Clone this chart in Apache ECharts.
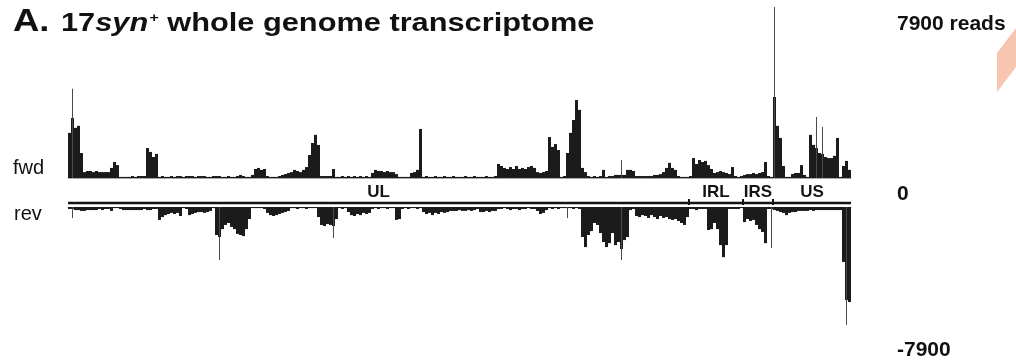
<!DOCTYPE html>
<html>
<head>
<meta charset="utf-8">
<style>
  html, body { margin: 0; padding: 0; background: #ffffff; }
  #chart { width: 1016px; height: 364px; }
</style>
<script src="https://cdn.jsdelivr.net/npm/echarts@6/dist/echarts.min.js"></script>
</head>
<body>
<div id="chart"></div>
<script>
// Strand-specific read coverage along the genome, one value per 3-pixel-wide genome bin.
// Forward-strand coverage (reads)
const fwdReads = [
  2060, 2740, 2290, 2380, 1140,
  270, 320, 320, 270, 320, 270, 270, 270, 270, 460, 730, 590,
  50, 50, 50, 50, 90, 50, 90, 90, 90,
  1370, 1190, 960, 1100,
  50, 90, 50, 50, 90, 50, 90, 90, 50, 90, 90, 90, 50, 90, 90, 90, 50, 50, 90, 90, 90, 50, 50, 90, 50, 50, 90, 140, 90, 50, 50, 140,
  410, 460, 370, 410,
  90, 50, 50, 50, 90, 140, 180, 230, 270, 370, 320, 270, 370, 500, 1050, 1600, 1970, 1510,
  90, 90, 90, 90, 410, 50, 50, 90, 50, 90, 50, 90, 50, 90, 50, 90, 50,
  230, 370, 320, 320, 270, 320, 270, 270, 180,
  50, 50, 50, 50,
  230, 270, 370, 2240,
  50, 90, 50, 50, 90, 50, 50, 90, 50, 50, 90, 50, 50, 50, 90, 50, 50, 90, 50, 50, 50, 90, 50, 50, 90,
  640, 550, 460, 410, 500, 410, 550, 410, 460, 410, 500, 550, 460, 270, 230, 270, 320,
  1870, 1420, 1550, 1280,
  50, 90,
  1140, 2060, 2650, 3560, 3110, 460, 270,
  90, 50, 90, 50, 90, 370, 50, 90, 90, 140, 140, 140, 140, 370, 370, 320, 90, 90, 90, 90,
  90, 90, 140, 140, 180, 270, 460, 690, 460, 370, 90, 50, 50, 50, 90,
  910, 640, 820, 730, 780, 590, 410,
  230, 270, 320, 270, 230, 180, 500, 90, 50, 90, 140, 180, 180, 230, 180, 230, 270, 730, 90, 50,
  3700, 2380, 1830, 550,
  50, 50, 180, 230, 230, 590, 140, 50,
  1970, 1510, 1370, 1140, 1100, 960, 910, 910, 1010, 1830,
  50, 550, 780, 370
];

// Reverse-strand coverage (reads, drawn below the genome map)
const revReads = [
  -90, -90,
  -140, -140, -180, -180, -140, -140, -140, -140, -90, -140, -90, -90, -180, -50, -50,
  -90, -140, -140, -140, -140, -140, -140, -140, -90, -140, -140, -90, -90,
  -590, -460, -370, -320, -270, -320, -270, -410, -50, -90,
  -370, -320, -270, -230, -230, -270, -230, -180, -50,
  -1280, -1370, -1010, -820, -730, -910, -1010, -1230, -1280, -1330, -1010, -550,
  -50, -50, -50, -50, -90,
  -270, -370, -410, -370, -320, -270, -230, -180,
  -50, -50, -90, -50, -50, -90, -50, -50, -50, -460,
  -820, -870, -780, -820, -870, -550,
  -50, -90, -50,
  -230, -370, -410, -320, -370, -270, -320, -270, -90,
  -50, -90, -50, -50, -90, -50, -50,
  -590, -550, -90,
  -50, -90, -50, -50, -90, -50,
  -230, -320, -270, -370, -270, -320, -230, -270, -230, -180, -180, -180, -140, -180, -180, -140, -180, -140, -90, -230, -230, -180, -230, -180, -180,
  -90, -90, -50, -90, -140, -90, -90, -140, -90, -90, -50, -90, -90,
  -180, -320, -270, -140,
  -50, -90, -50, -90, -50, -50,
  -50,
  -50, -90, -50, -90,
  -1370, -1830, -1280, -1100, -730, -820, -1190, -1600, -1830,
  -1650, -1190, -1740, -1600, -1920, -1510, -1370,
  -140, -90,
  -410, -460, -370, -410, -500, -370, -460, -550, -410, -500, -460, -550, -590, -550, -640, -730, -820, -460,
  -90, -90, -140, -90, -90, -90,
  -1050, -1010, -730, -1010, -1740, -2290, -1740,
  -90, -90, -90, -90, -50,
  -690, -550, -640, -590, -820, -1010, -1140, -1650,
  -90, -90,
  -140, -180, -230, -270, -370, -270, -230, -230, -180, -180, -180, -180, -140, -180, -140, -140, -140, -140, -140, -140, -140, -140, -140,
  -2510, -4250, -4340
];

// Narrow single-position peaks: [bin, reads]
const fwdPeaks = [[1, 4070], [184, 820], [235, 7810], [249, 2790], [251, 2330]];
const revPeaks = [[1, -500], [50, -2420], [88, -1420], [166, -500], [184, -2420], [234, -1870], [259, -5390]];

// Genome segments: first and last bin of each
const regionNames = ['UL', 'IRL', 'IRS', 'US'];
const regionStartBin = [0, 207, 225, 235];
const regionEndBin = [206, 224, 234, 260];

// Scale annotation
const scaleMax = 7900;
const scaleLabels = ['7900 reads', '0', '-7900'];

const bins = fwdReads.map((_, i) => i);

const FONT = '"Liberation Sans", Arial, Helvetica, sans-serif';
const INK = '#1b1b1b';

const chart = echarts.init(document.getElementById('chart'), null, { renderer: 'canvas' });

const hiddenCat = (grid) => ({
  type: 'category', gridIndex: grid, data: bins, show: false, boundaryGap: true
});

const option = {
  backgroundColor: '#ffffff',
  animation: false,
  grid: [
    { left: 68, width: 783, top: 5, height: 173, outerBoundsMode: 'none' },
    { left: 68, width: 783, top: 207, height: 173, outerBoundsMode: 'none' },
    { left: 68, width: 783, top: 180, height: 23, outerBoundsMode: 'none' }
  ],
  xAxis: [
    {
      type: 'category', gridIndex: 0, data: bins, boundaryGap: true,
      axisLine: { show: true, lineStyle: { color: '#a8a8a8', width: 1 } },
      axisTick: { show: false }, axisLabel: { show: false }, splitLine: { show: false }
    },
    hiddenCat(0),
    {
      type: 'category', gridIndex: 1, data: bins, boundaryGap: true, position: 'top',
      axisLine: { show: true, onZero: false, lineStyle: { color: '#a8a8a8', width: 1 } },
      axisTick: { show: false }, axisLabel: { show: false }, splitLine: { show: false }
    },
    hiddenCat(1),
    hiddenCat(2)
  ],
  yAxis: [
    { type: 'value', gridIndex: 0, min: 0, max: scaleMax, show: false, splitLine: { show: false } },
    { type: 'value', gridIndex: 1, min: -scaleMax, max: 0, show: false, splitLine: { show: false } },
    { type: 'value', gridIndex: 2, min: 0, max: 1, show: false, splitLine: { show: false } }
  ],
  series: [
    {
      name: 'fwd', type: 'bar', xAxisIndex: 0, yAxisIndex: 0,
      data: fwdReads, barWidth: '100%', barCategoryGap: '0%',
      itemStyle: { color: INK }, silent: true
    },
    {
      name: 'fwd peaks', type: 'bar', xAxisIndex: 1, yAxisIndex: 0,
      data: fwdPeaks, barWidth: 1,
      itemStyle: { color: '#4a4a4a' }, silent: true
    },
    {
      name: 'rev', type: 'bar', xAxisIndex: 2, yAxisIndex: 1,
      data: revReads, barWidth: '100%', barCategoryGap: '0%',
      itemStyle: { color: INK }, silent: true
    },
    {
      name: 'rev peaks', type: 'bar', xAxisIndex: 3, yAxisIndex: 1,
      data: revPeaks, barWidth: 1,
      itemStyle: { color: '#4a4a4a' }, silent: true
    },
    {
      // genome map: one thick segment per region, boundary ticks and region names
      name: 'genome map', type: 'custom', coordinateSystem: 'cartesian2d',
      xAxisIndex: 4, yAxisIndex: 2, silent: true,
      data: regionNames.map((n, i) => [regionStartBin[i], regionEndBin[i]]),
      encode: { x: [0, 1] },
      renderItem: function (params, api) {
        const band = api.size([1, 0])[0];
        const a = api.coord([api.value(0), 0]);
        const b = api.coord([api.value(1), 0]);
        const x1 = a[0] - band / 2;
        const x2 = b[0] + band / 2;
        const y = a[1];
        const children = [
          { type: 'line', shape: { x1: x1, y1: y, x2: x2, y2: y },
            style: { stroke: '#141414', lineWidth: 2.5 } },
          { type: 'text',
            style: { text: regionNames[params.dataIndex], x: (x1 + x2) / 2, y: y - 11,
                     align: 'center', verticalAlign: 'middle',
                     font: 'bold 17px ' + FONT, fill: '#141414' } }
        ];
        if (api.value(0) > 0) {
          children.push({ type: 'line', shape: { x1: x1, y1: y - 4, x2: x1, y2: y + 2 },
                          style: { stroke: '#141414', lineWidth: 2 } });
        }
        return { type: 'group', children: children };
      }
    }
  ],
  graphic: [
    { type: 'text', x: 13, y: 22, scaleX: 1.14,
      style: { text: 'A.', font: 'bold 32px ' + FONT, fill: '#111', verticalAlign: 'middle' } },
    { type: 'text', x: 61, y: 24, scaleX: 1.23,
      style: {
        text: '{b|17}{i|syn}{s|+}{b| whole genome transcriptome}',
        verticalAlign: 'middle', fill: '#111',
        rich: {
          b: { font: 'bold 25px ' + FONT, fill: '#111' },
          i: { font: 'italic bold 25px ' + FONT, fill: '#111' },
          s: { font: 'bold 13px ' + FONT, fill: '#111', verticalAlign: 'top', padding: [0, 0, 10, 1] }
        }
      } },
    { type: 'text', x: 13, y: 168,
      style: { text: 'fwd', font: '20px ' + FONT, fill: '#111', verticalAlign: 'middle' } },
    { type: 'text', x: 14, y: 214,
      style: { text: 'rev', font: '20px ' + FONT, fill: '#111', verticalAlign: 'middle' } },
    { type: 'text', x: 897, y: 24,
      style: { text: scaleLabels[0], font: 'bold 21px ' + FONT, fill: '#111', verticalAlign: 'middle' } },
    { type: 'text', x: 897, y: 194,
      style: { text: scaleLabels[1], font: 'bold 21px ' + FONT, fill: '#111', verticalAlign: 'middle' } },
    { type: 'text', x: 897, y: 350,
      style: { text: scaleLabels[2], font: 'bold 21px ' + FONT, fill: '#111', verticalAlign: 'middle' } },
    { type: 'polygon', silent: true,
      shape: { points: [[997, 53], [1016, 28], [1016, 67], [997, 92]] },
      style: { fill: '#f7c5b0' } }
  ]
};

chart.setOption(option);
</script>
</body>
</html>
